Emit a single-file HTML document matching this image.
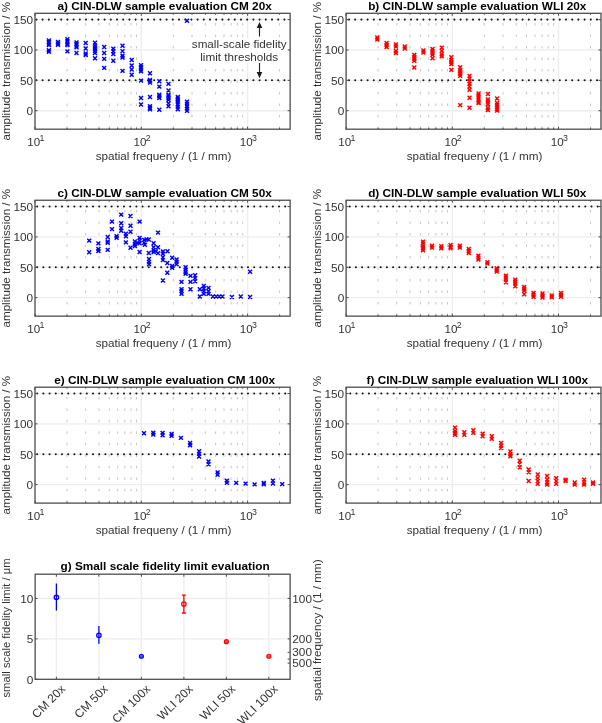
<!DOCTYPE html>
<html><head><meta charset="utf-8"><style>
html,body{margin:0;padding:0;background:#fff;}
svg{display:block;will-change:transform;}
text{font-family:"Liberation Sans", sans-serif;fill:#333333;}
.tt{fill:#000;}
</style></head><body>
<svg width="602" height="723" viewBox="0 0 602 723">
<g>
<rect width="602" height="723" fill="#fff"/>
<line x1="141.3" y1="13.3" x2="141.3" y2="129.2" stroke="#eeeeee" stroke-width="1.4"/>
<line x1="247.6" y1="13.3" x2="247.6" y2="129.2" stroke="#eeeeee" stroke-width="1.4"/>
<line x1="35" y1="110.7" x2="290.12" y2="110.7" stroke="#eeeeee" stroke-width="1.4"/>
<line x1="35" y1="80.34" x2="290.12" y2="80.34" stroke="#eeeeee" stroke-width="1.4"/>
<line x1="35" y1="49.97" x2="290.12" y2="49.97" stroke="#eeeeee" stroke-width="1.4"/>
<line x1="35" y1="19.61" x2="290.12" y2="19.61" stroke="#eeeeee" stroke-width="1.4"/>
<path d="M67 23v2.5 M67 34.5v2.5 M67 46v2.5 M67 57.5v2.5 M67 69v2.5 M67 80.5v2.5 M67 92v2.5 M67 103.5v2.5 M67 115v2.5 M67 126.5v2.5" stroke="#c6c6c6" stroke-width="1" fill="none"/>
<path d="M85.72 23v2.5 M85.72 34.5v2.5 M85.72 46v2.5 M85.72 57.5v2.5 M85.72 69v2.5 M85.72 80.5v2.5 M85.72 92v2.5 M85.72 103.5v2.5 M85.72 115v2.5 M85.72 126.5v2.5" stroke="#c6c6c6" stroke-width="1" fill="none"/>
<path d="M99 23v2.5 M99 34.5v2.5 M99 46v2.5 M99 57.5v2.5 M99 69v2.5 M99 80.5v2.5 M99 92v2.5 M99 103.5v2.5 M99 115v2.5 M99 126.5v2.5" stroke="#c6c6c6" stroke-width="1" fill="none"/>
<path d="M109.3 23v2.5 M109.3 34.5v2.5 M109.3 46v2.5 M109.3 57.5v2.5 M109.3 69v2.5 M109.3 80.5v2.5 M109.3 92v2.5 M109.3 103.5v2.5 M109.3 115v2.5 M109.3 126.5v2.5" stroke="#c6c6c6" stroke-width="1" fill="none"/>
<path d="M117.72 23v2.5 M117.72 34.5v2.5 M117.72 46v2.5 M117.72 57.5v2.5 M117.72 69v2.5 M117.72 80.5v2.5 M117.72 92v2.5 M117.72 103.5v2.5 M117.72 115v2.5 M117.72 126.5v2.5" stroke="#c6c6c6" stroke-width="1" fill="none"/>
<path d="M124.83 23v2.5 M124.83 34.5v2.5 M124.83 46v2.5 M124.83 57.5v2.5 M124.83 69v2.5 M124.83 80.5v2.5 M124.83 92v2.5 M124.83 103.5v2.5 M124.83 115v2.5 M124.83 126.5v2.5" stroke="#c6c6c6" stroke-width="1" fill="none"/>
<path d="M131 23v2.5 M131 34.5v2.5 M131 46v2.5 M131 57.5v2.5 M131 69v2.5 M131 80.5v2.5 M131 92v2.5 M131 103.5v2.5 M131 115v2.5 M131 126.5v2.5" stroke="#c6c6c6" stroke-width="1" fill="none"/>
<path d="M136.44 23v2.5 M136.44 34.5v2.5 M136.44 46v2.5 M136.44 57.5v2.5 M136.44 69v2.5 M136.44 80.5v2.5 M136.44 92v2.5 M136.44 103.5v2.5 M136.44 115v2.5 M136.44 126.5v2.5" stroke="#c6c6c6" stroke-width="1" fill="none"/>
<path d="M173.3 23v2.5 M173.3 34.5v2.5 M173.3 46v2.5 M173.3 57.5v2.5 M173.3 69v2.5 M173.3 80.5v2.5 M173.3 92v2.5 M173.3 103.5v2.5 M173.3 115v2.5 M173.3 126.5v2.5" stroke="#c6c6c6" stroke-width="1" fill="none"/>
<path d="M192.02 23v2.5 M192.02 34.5v2.5 M192.02 46v2.5 M192.02 57.5v2.5 M192.02 69v2.5 M192.02 80.5v2.5 M192.02 92v2.5 M192.02 103.5v2.5 M192.02 115v2.5 M192.02 126.5v2.5" stroke="#c6c6c6" stroke-width="1" fill="none"/>
<path d="M205.3 23v2.5 M205.3 34.5v2.5 M205.3 46v2.5 M205.3 57.5v2.5 M205.3 69v2.5 M205.3 80.5v2.5 M205.3 92v2.5 M205.3 103.5v2.5 M205.3 115v2.5 M205.3 126.5v2.5" stroke="#c6c6c6" stroke-width="1" fill="none"/>
<path d="M215.6 23v2.5 M215.6 34.5v2.5 M215.6 46v2.5 M215.6 57.5v2.5 M215.6 69v2.5 M215.6 80.5v2.5 M215.6 92v2.5 M215.6 103.5v2.5 M215.6 115v2.5 M215.6 126.5v2.5" stroke="#c6c6c6" stroke-width="1" fill="none"/>
<path d="M224.02 23v2.5 M224.02 34.5v2.5 M224.02 46v2.5 M224.02 57.5v2.5 M224.02 69v2.5 M224.02 80.5v2.5 M224.02 92v2.5 M224.02 103.5v2.5 M224.02 115v2.5 M224.02 126.5v2.5" stroke="#c6c6c6" stroke-width="1" fill="none"/>
<path d="M231.13 23v2.5 M231.13 34.5v2.5 M231.13 46v2.5 M231.13 57.5v2.5 M231.13 69v2.5 M231.13 80.5v2.5 M231.13 92v2.5 M231.13 103.5v2.5 M231.13 115v2.5 M231.13 126.5v2.5" stroke="#c6c6c6" stroke-width="1" fill="none"/>
<path d="M237.3 23v2.5 M237.3 34.5v2.5 M237.3 46v2.5 M237.3 57.5v2.5 M237.3 69v2.5 M237.3 80.5v2.5 M237.3 92v2.5 M237.3 103.5v2.5 M237.3 115v2.5 M237.3 126.5v2.5" stroke="#c6c6c6" stroke-width="1" fill="none"/>
<path d="M242.74 23v2.5 M242.74 34.5v2.5 M242.74 46v2.5 M242.74 57.5v2.5 M242.74 69v2.5 M242.74 80.5v2.5 M242.74 92v2.5 M242.74 103.5v2.5 M242.74 115v2.5 M242.74 126.5v2.5" stroke="#c6c6c6" stroke-width="1" fill="none"/>
<path d="M279.6 23v2.5 M279.6 34.5v2.5 M279.6 46v2.5 M279.6 57.5v2.5 M279.6 69v2.5 M279.6 80.5v2.5 M279.6 92v2.5 M279.6 103.5v2.5 M279.6 115v2.5 M279.6 126.5v2.5" stroke="#c6c6c6" stroke-width="1" fill="none"/>
<line x1="36.4" y1="80.34" x2="290.12" y2="80.34" stroke="#151515" stroke-width="2.05" stroke-linecap="round" stroke-dasharray="0 6.2"/>
<line x1="36.4" y1="19.61" x2="290.12" y2="19.61" stroke="#151515" stroke-width="2.05" stroke-linecap="round" stroke-dasharray="0 6.2"/>
<path d="M35 110.7h2.5M290.12 110.7h-2.5M35 80.34h2.5M290.12 80.34h-2.5M35 49.97h2.5M290.12 49.97h-2.5M35 19.61h2.5M290.12 19.61h-2.5M35 129.2v-2.5M35 13.3v2.5M141.3 129.2v-2.5M141.3 13.3v2.5M247.6 129.2v-2.5M247.6 13.3v2.5M67 129.2v-1.5M67 13.3v1.5M85.72 129.2v-1.5M85.72 13.3v1.5M99 129.2v-1.5M99 13.3v1.5M109.3 129.2v-1.5M109.3 13.3v1.5M117.72 129.2v-1.5M117.72 13.3v1.5M124.83 129.2v-1.5M124.83 13.3v1.5M131 129.2v-1.5M131 13.3v1.5M136.44 129.2v-1.5M136.44 13.3v1.5M173.3 129.2v-1.5M173.3 13.3v1.5M192.02 129.2v-1.5M192.02 13.3v1.5M205.3 129.2v-1.5M205.3 13.3v1.5M215.6 129.2v-1.5M215.6 13.3v1.5M224.02 129.2v-1.5M224.02 13.3v1.5M231.13 129.2v-1.5M231.13 13.3v1.5M237.3 129.2v-1.5M237.3 13.3v1.5M242.74 129.2v-1.5M242.74 13.3v1.5M279.6 129.2v-1.5M279.6 13.3v1.5" stroke="#4d4d4d" stroke-width="1" fill="none"/>
<path d="M46.95 38.55l3.9 3.9M46.95 42.45l3.9 -3.9M46.95 40.05l3.9 3.9M46.95 43.95l3.9 -3.9M46.95 41.55l3.9 3.9M46.95 45.45l3.9 -3.9M46.95 43.05l3.9 3.9M46.95 46.95l3.9 -3.9M46.95 48.25l3.9 3.9M46.95 52.15l3.9 -3.9M46.95 49.85l3.9 3.9M46.95 53.75l3.9 -3.9M56.05 40.05l3.9 3.9M56.05 43.95l3.9 -3.9M56.05 41.55l3.9 3.9M56.05 45.45l3.9 -3.9M56.05 42.75l3.9 3.9M56.05 46.65l3.9 -3.9M65.45 37.25l3.9 3.9M65.45 41.15l3.9 -3.9M65.45 38.75l3.9 3.9M65.45 42.65l3.9 -3.9M65.45 40.25l3.9 3.9M65.45 44.15l3.9 -3.9M65.45 41.75l3.9 3.9M65.45 45.65l3.9 -3.9M65.45 43.05l3.9 3.9M65.45 46.95l3.9 -3.9M65.45 49.45l3.9 3.9M65.45 53.35l3.9 -3.9M74.55 40.45l3.9 3.9M74.55 44.35l3.9 -3.9M74.55 42.05l3.9 3.9M74.55 45.95l3.9 -3.9M74.55 43.55l3.9 3.9M74.55 47.45l3.9 -3.9M74.55 45.35l3.9 3.9M74.55 49.25l3.9 -3.9M74.55 51.05l3.9 3.9M74.55 54.95l3.9 -3.9M83.75 41.05l3.9 3.9M83.75 44.95l3.9 -3.9M83.75 46.55l3.9 3.9M83.75 50.45l3.9 -3.9M83.75 51.55l3.9 3.9M83.75 55.45l3.9 -3.9M83.75 53.05l3.9 3.9M83.75 56.95l3.9 -3.9M93.05 40.75l3.9 3.9M93.05 44.65l3.9 -3.9M93.05 43.55l3.9 3.9M93.05 47.45l3.9 -3.9M93.05 45.35l3.9 3.9M93.05 49.25l3.9 -3.9M93.05 47.05l3.9 3.9M93.05 50.95l3.9 -3.9M93.05 48.85l3.9 3.9M93.05 52.75l3.9 -3.9M93.05 51.05l3.9 3.9M93.05 54.95l3.9 -3.9M93.05 56.25l3.9 3.9M93.05 60.15l3.9 -3.9M102.25 45.05l3.9 3.9M102.25 48.95l3.9 -3.9M102.25 51.05l3.9 3.9M102.25 54.95l3.9 -3.9M102.25 56.95l3.9 3.9M102.25 60.85l3.9 -3.9M102.25 65.95l3.9 3.9M102.25 69.85l3.9 -3.9M111.35 46.65l3.9 3.9M111.35 50.55l3.9 -3.9M111.35 49.35l3.9 3.9M111.35 53.25l3.9 -3.9M111.35 52.05l3.9 3.9M111.35 55.95l3.9 -3.9M111.35 58.75l3.9 3.9M111.35 62.65l3.9 -3.9M120.55 43.75l3.9 3.9M120.55 47.65l3.9 -3.9M120.55 49.15l3.9 3.9M120.55 53.05l3.9 -3.9M120.55 53.65l3.9 3.9M120.55 57.55l3.9 -3.9M120.55 55.65l3.9 3.9M120.55 59.55l3.9 -3.9M120.55 68.95l3.9 3.9M120.55 72.85l3.9 -3.9M129.75 58.05l3.9 3.9M129.75 61.95l3.9 -3.9M129.75 63.55l3.9 3.9M129.75 67.45l3.9 -3.9M129.75 67.55l3.9 3.9M129.75 71.45l3.9 -3.9M129.75 72.85l3.9 3.9M129.75 76.75l3.9 -3.9M139.05 63.35l3.9 3.9M139.05 67.25l3.9 -3.9M139.05 65.35l3.9 3.9M139.05 69.25l3.9 -3.9M139.05 67.35l3.9 3.9M139.05 71.25l3.9 -3.9M139.05 69.35l3.9 3.9M139.05 73.25l3.9 -3.9M139.05 78.65l3.9 3.9M139.05 82.55l3.9 -3.9M139.05 96.05l3.9 3.9M139.05 99.95l3.9 -3.9M139.05 102.55l3.9 3.9M139.05 106.45l3.9 -3.9M148.05 71.35l3.9 3.9M148.05 75.25l3.9 -3.9M148.05 78.05l3.9 3.9M148.05 81.95l3.9 -3.9M148.05 79.35l3.9 3.9M148.05 83.25l3.9 -3.9M148.05 80.65l3.9 3.9M148.05 84.55l3.9 -3.9M148.05 95.05l3.9 3.9M148.05 98.95l3.9 -3.9M148.05 104.35l3.9 3.9M148.05 108.25l3.9 -3.9M148.05 106.05l3.9 3.9M148.05 109.95l3.9 -3.9M148.05 107.25l3.9 3.9M148.05 111.15l3.9 -3.9M157.35 79.35l3.9 3.9M157.35 83.25l3.9 -3.9M157.35 84.65l3.9 3.9M157.35 88.55l3.9 -3.9M157.35 92.75l3.9 3.9M157.35 96.65l3.9 -3.9M157.35 94.45l3.9 3.9M157.35 98.35l3.9 -3.9M157.35 96.15l3.9 3.9M157.35 100.05l3.9 -3.9M157.35 107.85l3.9 3.9M157.35 111.75l3.9 -3.9M166.55 81.95l3.9 3.9M166.55 85.85l3.9 -3.9M166.55 88.55l3.9 3.9M166.55 92.45l3.9 -3.9M166.55 92.75l3.9 3.9M166.55 96.65l3.9 -3.9M166.55 94.45l3.9 3.9M166.55 98.35l3.9 -3.9M166.55 96.15l3.9 3.9M166.55 100.05l3.9 -3.9M166.55 97.95l3.9 3.9M166.55 101.85l3.9 -3.9M166.55 101.45l3.9 3.9M166.55 105.35l3.9 -3.9M166.55 104.35l3.9 3.9M166.55 108.25l3.9 -3.9M175.85 95.05l3.9 3.9M175.85 98.95l3.9 -3.9M175.85 96.75l3.9 3.9M175.85 100.65l3.9 -3.9M175.85 98.55l3.9 3.9M175.85 102.45l3.9 -3.9M175.85 100.25l3.9 3.9M175.85 104.15l3.9 -3.9M175.85 102.55l3.9 3.9M175.85 106.45l3.9 -3.9M175.85 104.95l3.9 3.9M175.85 108.85l3.9 -3.9M175.85 107.25l3.9 3.9M175.85 111.15l3.9 -3.9M185.05 18.85l3.9 3.9M185.05 22.75l3.9 -3.9M185.05 99.65l3.9 3.9M185.05 103.55l3.9 -3.9M185.05 102.05l3.9 3.9M185.05 105.95l3.9 -3.9M185.05 104.35l3.9 3.9M185.05 108.25l3.9 -3.9M185.05 106.65l3.9 3.9M185.05 110.55l3.9 -3.9M185.05 108.95l3.9 3.9M185.05 112.85l3.9 -3.9" stroke="#0000ff" stroke-width="1.45" fill="none"/>
<rect x="35" y="13.3" width="255.12" height="115.9" fill="none" stroke="#4d4d4d" stroke-width="1.3"/>
<text x="33.1" y="115" text-anchor="end" font-size="11.8">0</text>
<text x="33.1" y="84.64" text-anchor="end" font-size="11.8">50</text>
<text x="33.1" y="54.27" text-anchor="end" font-size="11.8">100</text>
<text x="33.1" y="23.91" text-anchor="end" font-size="11.8">150</text>
<text x="27.2" y="146" font-size="11.6">10<tspan dx="-0.6" dy="-5.2" font-size="8.8">1</tspan></text>
<text x="133.5" y="146" font-size="11.6">10<tspan dx="-0.6" dy="-5.2" font-size="8.8">2</tspan></text>
<text x="239.8" y="146" font-size="11.6">10<tspan dx="-0.6" dy="-5.2" font-size="8.8">3</tspan></text>
<text x="163.56" y="159.8" text-anchor="middle" font-size="11.7">spatial frequeny / (1 / mm)</text>
<text transform="translate(9.8 71.25) rotate(-90)" text-anchor="middle" font-size="11.6">amplitude transmission / %</text>
<text x="164.6" y="9.7" text-anchor="middle" font-size="11.8" font-weight="bold" class="tt">a) CIN-DLW sample evaluation CM 20x</text>
<line x1="452.3" y1="13.3" x2="452.3" y2="129.2" stroke="#eeeeee" stroke-width="1.4"/>
<line x1="558.5" y1="13.3" x2="558.5" y2="129.2" stroke="#eeeeee" stroke-width="1.4"/>
<line x1="346.1" y1="110.7" x2="600.98" y2="110.7" stroke="#eeeeee" stroke-width="1.4"/>
<line x1="346.1" y1="80.34" x2="600.98" y2="80.34" stroke="#eeeeee" stroke-width="1.4"/>
<line x1="346.1" y1="49.97" x2="600.98" y2="49.97" stroke="#eeeeee" stroke-width="1.4"/>
<line x1="346.1" y1="19.61" x2="600.98" y2="19.61" stroke="#eeeeee" stroke-width="1.4"/>
<path d="M378.07 23v2.5 M378.07 34.5v2.5 M378.07 46v2.5 M378.07 57.5v2.5 M378.07 69v2.5 M378.07 80.5v2.5 M378.07 92v2.5 M378.07 103.5v2.5 M378.07 115v2.5 M378.07 126.5v2.5" stroke="#c6c6c6" stroke-width="1" fill="none"/>
<path d="M396.77 23v2.5 M396.77 34.5v2.5 M396.77 46v2.5 M396.77 57.5v2.5 M396.77 69v2.5 M396.77 80.5v2.5 M396.77 92v2.5 M396.77 103.5v2.5 M396.77 115v2.5 M396.77 126.5v2.5" stroke="#c6c6c6" stroke-width="1" fill="none"/>
<path d="M410.04 23v2.5 M410.04 34.5v2.5 M410.04 46v2.5 M410.04 57.5v2.5 M410.04 69v2.5 M410.04 80.5v2.5 M410.04 92v2.5 M410.04 103.5v2.5 M410.04 115v2.5 M410.04 126.5v2.5" stroke="#c6c6c6" stroke-width="1" fill="none"/>
<path d="M420.33 23v2.5 M420.33 34.5v2.5 M420.33 46v2.5 M420.33 57.5v2.5 M420.33 69v2.5 M420.33 80.5v2.5 M420.33 92v2.5 M420.33 103.5v2.5 M420.33 115v2.5 M420.33 126.5v2.5" stroke="#c6c6c6" stroke-width="1" fill="none"/>
<path d="M428.74 23v2.5 M428.74 34.5v2.5 M428.74 46v2.5 M428.74 57.5v2.5 M428.74 69v2.5 M428.74 80.5v2.5 M428.74 92v2.5 M428.74 103.5v2.5 M428.74 115v2.5 M428.74 126.5v2.5" stroke="#c6c6c6" stroke-width="1" fill="none"/>
<path d="M435.85 23v2.5 M435.85 34.5v2.5 M435.85 46v2.5 M435.85 57.5v2.5 M435.85 69v2.5 M435.85 80.5v2.5 M435.85 92v2.5 M435.85 103.5v2.5 M435.85 115v2.5 M435.85 126.5v2.5" stroke="#c6c6c6" stroke-width="1" fill="none"/>
<path d="M442.01 23v2.5 M442.01 34.5v2.5 M442.01 46v2.5 M442.01 57.5v2.5 M442.01 69v2.5 M442.01 80.5v2.5 M442.01 92v2.5 M442.01 103.5v2.5 M442.01 115v2.5 M442.01 126.5v2.5" stroke="#c6c6c6" stroke-width="1" fill="none"/>
<path d="M447.44 23v2.5 M447.44 34.5v2.5 M447.44 46v2.5 M447.44 57.5v2.5 M447.44 69v2.5 M447.44 80.5v2.5 M447.44 92v2.5 M447.44 103.5v2.5 M447.44 115v2.5 M447.44 126.5v2.5" stroke="#c6c6c6" stroke-width="1" fill="none"/>
<path d="M484.27 23v2.5 M484.27 34.5v2.5 M484.27 46v2.5 M484.27 57.5v2.5 M484.27 69v2.5 M484.27 80.5v2.5 M484.27 92v2.5 M484.27 103.5v2.5 M484.27 115v2.5 M484.27 126.5v2.5" stroke="#c6c6c6" stroke-width="1" fill="none"/>
<path d="M502.97 23v2.5 M502.97 34.5v2.5 M502.97 46v2.5 M502.97 57.5v2.5 M502.97 69v2.5 M502.97 80.5v2.5 M502.97 92v2.5 M502.97 103.5v2.5 M502.97 115v2.5 M502.97 126.5v2.5" stroke="#c6c6c6" stroke-width="1" fill="none"/>
<path d="M516.24 23v2.5 M516.24 34.5v2.5 M516.24 46v2.5 M516.24 57.5v2.5 M516.24 69v2.5 M516.24 80.5v2.5 M516.24 92v2.5 M516.24 103.5v2.5 M516.24 115v2.5 M516.24 126.5v2.5" stroke="#c6c6c6" stroke-width="1" fill="none"/>
<path d="M526.53 23v2.5 M526.53 34.5v2.5 M526.53 46v2.5 M526.53 57.5v2.5 M526.53 69v2.5 M526.53 80.5v2.5 M526.53 92v2.5 M526.53 103.5v2.5 M526.53 115v2.5 M526.53 126.5v2.5" stroke="#c6c6c6" stroke-width="1" fill="none"/>
<path d="M534.94 23v2.5 M534.94 34.5v2.5 M534.94 46v2.5 M534.94 57.5v2.5 M534.94 69v2.5 M534.94 80.5v2.5 M534.94 92v2.5 M534.94 103.5v2.5 M534.94 115v2.5 M534.94 126.5v2.5" stroke="#c6c6c6" stroke-width="1" fill="none"/>
<path d="M542.05 23v2.5 M542.05 34.5v2.5 M542.05 46v2.5 M542.05 57.5v2.5 M542.05 69v2.5 M542.05 80.5v2.5 M542.05 92v2.5 M542.05 103.5v2.5 M542.05 115v2.5 M542.05 126.5v2.5" stroke="#c6c6c6" stroke-width="1" fill="none"/>
<path d="M548.21 23v2.5 M548.21 34.5v2.5 M548.21 46v2.5 M548.21 57.5v2.5 M548.21 69v2.5 M548.21 80.5v2.5 M548.21 92v2.5 M548.21 103.5v2.5 M548.21 115v2.5 M548.21 126.5v2.5" stroke="#c6c6c6" stroke-width="1" fill="none"/>
<path d="M553.64 23v2.5 M553.64 34.5v2.5 M553.64 46v2.5 M553.64 57.5v2.5 M553.64 69v2.5 M553.64 80.5v2.5 M553.64 92v2.5 M553.64 103.5v2.5 M553.64 115v2.5 M553.64 126.5v2.5" stroke="#c6c6c6" stroke-width="1" fill="none"/>
<path d="M590.47 23v2.5 M590.47 34.5v2.5 M590.47 46v2.5 M590.47 57.5v2.5 M590.47 69v2.5 M590.47 80.5v2.5 M590.47 92v2.5 M590.47 103.5v2.5 M590.47 115v2.5 M590.47 126.5v2.5" stroke="#c6c6c6" stroke-width="1" fill="none"/>
<line x1="349" y1="80.34" x2="600.98" y2="80.34" stroke="#151515" stroke-width="2.05" stroke-linecap="round" stroke-dasharray="0 6.2"/>
<line x1="349" y1="19.61" x2="600.98" y2="19.61" stroke="#151515" stroke-width="2.05" stroke-linecap="round" stroke-dasharray="0 6.2"/>
<path d="M346.1 110.7h2.5M600.98 110.7h-2.5M346.1 80.34h2.5M600.98 80.34h-2.5M346.1 49.97h2.5M600.98 49.97h-2.5M346.1 19.61h2.5M600.98 19.61h-2.5M346.1 129.2v-2.5M346.1 13.3v2.5M452.3 129.2v-2.5M452.3 13.3v2.5M558.5 129.2v-2.5M558.5 13.3v2.5M378.07 129.2v-1.5M378.07 13.3v1.5M396.77 129.2v-1.5M396.77 13.3v1.5M410.04 129.2v-1.5M410.04 13.3v1.5M420.33 129.2v-1.5M420.33 13.3v1.5M428.74 129.2v-1.5M428.74 13.3v1.5M435.85 129.2v-1.5M435.85 13.3v1.5M442.01 129.2v-1.5M442.01 13.3v1.5M447.44 129.2v-1.5M447.44 13.3v1.5M484.27 129.2v-1.5M484.27 13.3v1.5M502.97 129.2v-1.5M502.97 13.3v1.5M516.24 129.2v-1.5M516.24 13.3v1.5M526.53 129.2v-1.5M526.53 13.3v1.5M534.94 129.2v-1.5M534.94 13.3v1.5M542.05 129.2v-1.5M542.05 13.3v1.5M548.21 129.2v-1.5M548.21 13.3v1.5M553.64 129.2v-1.5M553.64 13.3v1.5M590.47 129.2v-1.5M590.47 13.3v1.5" stroke="#4d4d4d" stroke-width="1" fill="none"/>
<path d="M375.35 35.55l3.9 3.9M375.35 39.45l3.9 -3.9M375.35 37.55l3.9 3.9M375.35 41.45l3.9 -3.9M384.65 41.05l3.9 3.9M384.65 44.95l3.9 -3.9M384.65 43.05l3.9 3.9M384.65 46.95l3.9 -3.9M384.65 45.05l3.9 3.9M384.65 48.95l3.9 -3.9M393.95 42.55l3.9 3.9M393.95 46.45l3.9 -3.9M393.95 44.55l3.9 3.9M393.95 48.45l3.9 -3.9M393.95 49.05l3.9 3.9M393.95 52.95l3.9 -3.9M393.95 51.05l3.9 3.9M393.95 54.95l3.9 -3.9M402.85 44.55l3.9 3.9M402.85 48.45l3.9 -3.9M402.85 46.55l3.9 3.9M402.85 50.45l3.9 -3.9M412.35 52.95l3.9 3.9M412.35 56.85l3.9 -3.9M412.35 54.95l3.9 3.9M412.35 58.85l3.9 -3.9M412.35 56.95l3.9 3.9M412.35 60.85l3.9 -3.9M412.35 58.95l3.9 3.9M412.35 62.85l3.9 -3.9M412.35 65.55l3.9 3.9M412.35 69.45l3.9 -3.9M421.45 48.55l3.9 3.9M421.45 52.45l3.9 -3.9M421.45 50.55l3.9 3.9M421.45 54.45l3.9 -3.9M430.55 46.95l3.9 3.9M430.55 50.85l3.9 -3.9M430.55 48.95l3.9 3.9M430.55 52.85l3.9 -3.9M430.55 50.95l3.9 3.9M430.55 54.85l3.9 -3.9M430.55 52.95l3.9 3.9M430.55 56.85l3.9 -3.9M430.55 56.25l3.9 3.9M430.55 60.15l3.9 -3.9M439.85 45.65l3.9 3.9M439.85 49.55l3.9 -3.9M439.85 48.95l3.9 3.9M439.85 52.85l3.9 -3.9M439.85 52.25l3.9 3.9M439.85 56.15l3.9 -3.9M439.85 54.25l3.9 3.9M439.85 58.15l3.9 -3.9M449.35 55.35l3.9 3.9M449.35 59.25l3.9 -3.9M449.35 58.05l3.9 3.9M449.35 61.95l3.9 -3.9M449.35 60.05l3.9 3.9M449.35 63.95l3.9 -3.9M449.35 62.05l3.9 3.9M449.35 65.95l3.9 -3.9M449.35 67.95l3.9 3.9M449.35 71.85l3.9 -3.9M458.25 65.35l3.9 3.9M458.25 69.25l3.9 -3.9M458.25 67.95l3.9 3.9M458.25 71.85l3.9 -3.9M458.25 69.95l3.9 3.9M458.25 73.85l3.9 -3.9M458.25 71.95l3.9 3.9M458.25 75.85l3.9 -3.9M458.25 73.95l3.9 3.9M458.25 77.85l3.9 -3.9M458.25 103.15l3.9 3.9M458.25 107.05l3.9 -3.9M467.55 73.95l3.9 3.9M467.55 77.85l3.9 -3.9M467.55 76.65l3.9 3.9M467.55 80.55l3.9 -3.9M467.55 79.25l3.9 3.9M467.55 83.15l3.9 -3.9M467.55 81.95l3.9 3.9M467.55 85.85l3.9 -3.9M467.55 84.55l3.9 3.9M467.55 88.45l3.9 -3.9M467.55 87.95l3.9 3.9M467.55 91.85l3.9 -3.9M467.55 95.85l3.9 3.9M467.55 99.75l3.9 -3.9M467.55 105.85l3.9 3.9M467.55 109.75l3.9 -3.9M476.65 91.55l3.9 3.9M476.65 95.45l3.9 -3.9M476.65 93.55l3.9 3.9M476.65 97.45l3.9 -3.9M476.65 95.55l3.9 3.9M476.65 99.45l3.9 -3.9M476.65 97.55l3.9 3.9M476.65 101.45l3.9 -3.9M476.65 99.55l3.9 3.9M476.65 103.45l3.9 -3.9M476.65 101.05l3.9 3.9M476.65 104.95l3.9 -3.9M485.95 92.05l3.9 3.9M485.95 95.95l3.9 -3.9M485.95 97.55l3.9 3.9M485.95 101.45l3.9 -3.9M485.95 99.55l3.9 3.9M485.95 103.45l3.9 -3.9M485.95 101.55l3.9 3.9M485.95 105.45l3.9 -3.9M485.95 102.55l3.9 3.9M485.95 106.45l3.9 -3.9M485.95 106.05l3.9 3.9M485.95 109.95l3.9 -3.9M485.95 108.05l3.9 3.9M485.95 111.95l3.9 -3.9M495.15 96.55l3.9 3.9M495.15 100.45l3.9 -3.9M495.15 101.05l3.9 3.9M495.15 104.95l3.9 -3.9M495.15 103.05l3.9 3.9M495.15 106.95l3.9 -3.9M495.15 105.05l3.9 3.9M495.15 108.95l3.9 -3.9M495.15 107.05l3.9 3.9M495.15 110.95l3.9 -3.9M495.15 108.55l3.9 3.9M495.15 112.45l3.9 -3.9" stroke="#ff0000" stroke-width="1.45" fill="none"/>
<rect x="346.1" y="13.3" width="254.88" height="115.9" fill="none" stroke="#4d4d4d" stroke-width="1.3"/>
<text x="344.2" y="115" text-anchor="end" font-size="11.8">0</text>
<text x="344.2" y="84.64" text-anchor="end" font-size="11.8">50</text>
<text x="344.2" y="54.27" text-anchor="end" font-size="11.8">100</text>
<text x="344.2" y="23.91" text-anchor="end" font-size="11.8">150</text>
<text x="338.3" y="146" font-size="11.6">10<tspan dx="-0.6" dy="-5.2" font-size="8.8">1</tspan></text>
<text x="444.5" y="146" font-size="11.6">10<tspan dx="-0.6" dy="-5.2" font-size="8.8">2</tspan></text>
<text x="550.7" y="146" font-size="11.6">10<tspan dx="-0.6" dy="-5.2" font-size="8.8">3</tspan></text>
<text x="474.54" y="159.8" text-anchor="middle" font-size="11.7">spatial frequeny / (1 / mm)</text>
<text transform="translate(320.9 71.25) rotate(-90)" text-anchor="middle" font-size="11.6">amplitude transmission / %</text>
<text x="477.3" y="9.7" text-anchor="middle" font-size="11.8" font-weight="bold" class="tt">b) CIN-DLW sample evaluation WLI 20x</text>
<line x1="141.3" y1="200.25" x2="141.3" y2="316.15" stroke="#eeeeee" stroke-width="1.4"/>
<line x1="247.6" y1="200.25" x2="247.6" y2="316.15" stroke="#eeeeee" stroke-width="1.4"/>
<line x1="35" y1="297.65" x2="290.12" y2="297.65" stroke="#eeeeee" stroke-width="1.4"/>
<line x1="35" y1="267.28" x2="290.12" y2="267.28" stroke="#eeeeee" stroke-width="1.4"/>
<line x1="35" y1="236.92" x2="290.12" y2="236.92" stroke="#eeeeee" stroke-width="1.4"/>
<line x1="35" y1="206.55" x2="290.12" y2="206.55" stroke="#eeeeee" stroke-width="1.4"/>
<path d="M67 209.95v2.5 M67 221.45v2.5 M67 232.95v2.5 M67 244.45v2.5 M67 255.95v2.5 M67 267.45v2.5 M67 278.95v2.5 M67 290.45v2.5 M67 301.95v2.5 M67 313.45v2.5" stroke="#c6c6c6" stroke-width="1" fill="none"/>
<path d="M85.72 209.95v2.5 M85.72 221.45v2.5 M85.72 232.95v2.5 M85.72 244.45v2.5 M85.72 255.95v2.5 M85.72 267.45v2.5 M85.72 278.95v2.5 M85.72 290.45v2.5 M85.72 301.95v2.5 M85.72 313.45v2.5" stroke="#c6c6c6" stroke-width="1" fill="none"/>
<path d="M99 209.95v2.5 M99 221.45v2.5 M99 232.95v2.5 M99 244.45v2.5 M99 255.95v2.5 M99 267.45v2.5 M99 278.95v2.5 M99 290.45v2.5 M99 301.95v2.5 M99 313.45v2.5" stroke="#c6c6c6" stroke-width="1" fill="none"/>
<path d="M109.3 209.95v2.5 M109.3 221.45v2.5 M109.3 232.95v2.5 M109.3 244.45v2.5 M109.3 255.95v2.5 M109.3 267.45v2.5 M109.3 278.95v2.5 M109.3 290.45v2.5 M109.3 301.95v2.5 M109.3 313.45v2.5" stroke="#c6c6c6" stroke-width="1" fill="none"/>
<path d="M117.72 209.95v2.5 M117.72 221.45v2.5 M117.72 232.95v2.5 M117.72 244.45v2.5 M117.72 255.95v2.5 M117.72 267.45v2.5 M117.72 278.95v2.5 M117.72 290.45v2.5 M117.72 301.95v2.5 M117.72 313.45v2.5" stroke="#c6c6c6" stroke-width="1" fill="none"/>
<path d="M124.83 209.95v2.5 M124.83 221.45v2.5 M124.83 232.95v2.5 M124.83 244.45v2.5 M124.83 255.95v2.5 M124.83 267.45v2.5 M124.83 278.95v2.5 M124.83 290.45v2.5 M124.83 301.95v2.5 M124.83 313.45v2.5" stroke="#c6c6c6" stroke-width="1" fill="none"/>
<path d="M131 209.95v2.5 M131 221.45v2.5 M131 232.95v2.5 M131 244.45v2.5 M131 255.95v2.5 M131 267.45v2.5 M131 278.95v2.5 M131 290.45v2.5 M131 301.95v2.5 M131 313.45v2.5" stroke="#c6c6c6" stroke-width="1" fill="none"/>
<path d="M136.44 209.95v2.5 M136.44 221.45v2.5 M136.44 232.95v2.5 M136.44 244.45v2.5 M136.44 255.95v2.5 M136.44 267.45v2.5 M136.44 278.95v2.5 M136.44 290.45v2.5 M136.44 301.95v2.5 M136.44 313.45v2.5" stroke="#c6c6c6" stroke-width="1" fill="none"/>
<path d="M173.3 209.95v2.5 M173.3 221.45v2.5 M173.3 232.95v2.5 M173.3 244.45v2.5 M173.3 255.95v2.5 M173.3 267.45v2.5 M173.3 278.95v2.5 M173.3 290.45v2.5 M173.3 301.95v2.5 M173.3 313.45v2.5" stroke="#c6c6c6" stroke-width="1" fill="none"/>
<path d="M192.02 209.95v2.5 M192.02 221.45v2.5 M192.02 232.95v2.5 M192.02 244.45v2.5 M192.02 255.95v2.5 M192.02 267.45v2.5 M192.02 278.95v2.5 M192.02 290.45v2.5 M192.02 301.95v2.5 M192.02 313.45v2.5" stroke="#c6c6c6" stroke-width="1" fill="none"/>
<path d="M205.3 209.95v2.5 M205.3 221.45v2.5 M205.3 232.95v2.5 M205.3 244.45v2.5 M205.3 255.95v2.5 M205.3 267.45v2.5 M205.3 278.95v2.5 M205.3 290.45v2.5 M205.3 301.95v2.5 M205.3 313.45v2.5" stroke="#c6c6c6" stroke-width="1" fill="none"/>
<path d="M215.6 209.95v2.5 M215.6 221.45v2.5 M215.6 232.95v2.5 M215.6 244.45v2.5 M215.6 255.95v2.5 M215.6 267.45v2.5 M215.6 278.95v2.5 M215.6 290.45v2.5 M215.6 301.95v2.5 M215.6 313.45v2.5" stroke="#c6c6c6" stroke-width="1" fill="none"/>
<path d="M224.02 209.95v2.5 M224.02 221.45v2.5 M224.02 232.95v2.5 M224.02 244.45v2.5 M224.02 255.95v2.5 M224.02 267.45v2.5 M224.02 278.95v2.5 M224.02 290.45v2.5 M224.02 301.95v2.5 M224.02 313.45v2.5" stroke="#c6c6c6" stroke-width="1" fill="none"/>
<path d="M231.13 209.95v2.5 M231.13 221.45v2.5 M231.13 232.95v2.5 M231.13 244.45v2.5 M231.13 255.95v2.5 M231.13 267.45v2.5 M231.13 278.95v2.5 M231.13 290.45v2.5 M231.13 301.95v2.5 M231.13 313.45v2.5" stroke="#c6c6c6" stroke-width="1" fill="none"/>
<path d="M237.3 209.95v2.5 M237.3 221.45v2.5 M237.3 232.95v2.5 M237.3 244.45v2.5 M237.3 255.95v2.5 M237.3 267.45v2.5 M237.3 278.95v2.5 M237.3 290.45v2.5 M237.3 301.95v2.5 M237.3 313.45v2.5" stroke="#c6c6c6" stroke-width="1" fill="none"/>
<path d="M242.74 209.95v2.5 M242.74 221.45v2.5 M242.74 232.95v2.5 M242.74 244.45v2.5 M242.74 255.95v2.5 M242.74 267.45v2.5 M242.74 278.95v2.5 M242.74 290.45v2.5 M242.74 301.95v2.5 M242.74 313.45v2.5" stroke="#c6c6c6" stroke-width="1" fill="none"/>
<path d="M279.6 209.95v2.5 M279.6 221.45v2.5 M279.6 232.95v2.5 M279.6 244.45v2.5 M279.6 255.95v2.5 M279.6 267.45v2.5 M279.6 278.95v2.5 M279.6 290.45v2.5 M279.6 301.95v2.5 M279.6 313.45v2.5" stroke="#c6c6c6" stroke-width="1" fill="none"/>
<line x1="37.2" y1="267.28" x2="290.12" y2="267.28" stroke="#151515" stroke-width="2.05" stroke-linecap="round" stroke-dasharray="0 6.2"/>
<line x1="37.2" y1="206.55" x2="290.12" y2="206.55" stroke="#151515" stroke-width="2.05" stroke-linecap="round" stroke-dasharray="0 6.2"/>
<path d="M35 297.65h2.5M290.12 297.65h-2.5M35 267.28h2.5M290.12 267.28h-2.5M35 236.92h2.5M290.12 236.92h-2.5M35 206.55h2.5M290.12 206.55h-2.5M35 316.15v-2.5M35 200.25v2.5M141.3 316.15v-2.5M141.3 200.25v2.5M247.6 316.15v-2.5M247.6 200.25v2.5M67 316.15v-1.5M67 200.25v1.5M85.72 316.15v-1.5M85.72 200.25v1.5M99 316.15v-1.5M99 200.25v1.5M109.3 316.15v-1.5M109.3 200.25v1.5M117.72 316.15v-1.5M117.72 200.25v1.5M124.83 316.15v-1.5M124.83 200.25v1.5M131 316.15v-1.5M131 200.25v1.5M136.44 316.15v-1.5M136.44 200.25v1.5M173.3 316.15v-1.5M173.3 200.25v1.5M192.02 316.15v-1.5M192.02 200.25v1.5M205.3 316.15v-1.5M205.3 200.25v1.5M215.6 316.15v-1.5M215.6 200.25v1.5M224.02 316.15v-1.5M224.02 200.25v1.5M231.13 316.15v-1.5M231.13 200.25v1.5M237.3 316.15v-1.5M237.3 200.25v1.5M242.74 316.15v-1.5M242.74 200.25v1.5M279.6 316.15v-1.5M279.6 200.25v1.5" stroke="#4d4d4d" stroke-width="1" fill="none"/>
<path d="M87.25 238.65l3.9 3.9M87.25 242.55l3.9 -3.9M87.25 250.25l3.9 3.9M87.25 254.15l3.9 -3.9M96.45 241.45l3.9 3.9M96.45 245.35l3.9 -3.9M96.45 247.05l3.9 3.9M96.45 250.95l3.9 -3.9M96.45 249.05l3.9 3.9M96.45 252.95l3.9 -3.9M105.75 235.05l3.9 3.9M105.75 238.95l3.9 -3.9M105.75 239.55l3.9 3.9M105.75 243.45l3.9 -3.9M105.75 240.85l3.9 3.9M105.75 244.75l3.9 -3.9M105.75 247.95l3.9 3.9M105.75 251.85l3.9 -3.9M110.05 219.65l3.9 3.9M110.05 223.55l3.9 -3.9M110.05 227.15l3.9 3.9M110.05 231.05l3.9 -3.9M114.65 234.15l3.9 3.9M114.65 238.05l3.9 -3.9M114.65 235.85l3.9 3.9M114.65 239.75l3.9 -3.9M119.25 212.65l3.9 3.9M119.25 216.55l3.9 -3.9M119.25 221.35l3.9 3.9M119.25 225.25l3.9 -3.9M119.25 226.05l3.9 3.9M119.25 229.95l3.9 -3.9M119.25 228.85l3.9 3.9M119.25 232.75l3.9 -3.9M123.95 231.75l3.9 3.9M123.95 235.65l3.9 -3.9M123.95 234.25l3.9 3.9M123.95 238.15l3.9 -3.9M123.95 240.45l3.9 3.9M123.95 244.35l3.9 -3.9M128.55 214.05l3.9 3.9M128.55 217.95l3.9 -3.9M128.55 223.85l3.9 3.9M128.55 227.75l3.9 -3.9M128.55 229.85l3.9 3.9M128.55 233.75l3.9 -3.9M128.55 245.75l3.9 3.9M128.55 249.65l3.9 -3.9M132.95 239.55l3.9 3.9M132.95 243.45l3.9 -3.9M132.95 242.05l3.9 3.9M132.95 245.95l3.9 -3.9M132.95 244.15l3.9 3.9M132.95 248.05l3.9 -3.9M135.25 240.85l3.9 3.9M135.25 244.75l3.9 -3.9M137.65 219.65l3.9 3.9M137.65 223.55l3.9 -3.9M137.65 235.95l3.9 3.9M137.65 239.85l3.9 -3.9M137.65 238.55l3.9 3.9M137.65 242.45l3.9 -3.9M137.65 241.25l3.9 3.9M137.65 245.15l3.9 -3.9M137.65 250.05l3.9 3.9M137.65 253.95l3.9 -3.9M142.25 237.95l3.9 3.9M142.25 241.85l3.9 -3.9M142.25 240.85l3.9 3.9M142.25 244.75l3.9 -3.9M142.95 242.75l3.9 3.9M142.95 246.65l3.9 -3.9M144.55 237.45l3.9 3.9M144.55 241.35l3.9 -3.9M146.85 237.55l3.9 3.9M146.85 241.45l3.9 -3.9M146.85 251.05l3.9 3.9M146.85 254.95l3.9 -3.9M147.05 257.05l3.9 3.9M147.05 260.95l3.9 -3.9M147.05 259.95l3.9 3.9M147.05 263.85l3.9 -3.9M147.05 262.25l3.9 3.9M147.05 266.15l3.9 -3.9M151.65 241.35l3.9 3.9M151.65 245.25l3.9 -3.9M151.65 245.35l3.9 3.9M151.65 249.25l3.9 -3.9M151.65 248.25l3.9 3.9M151.65 252.15l3.9 -3.9M151.65 250.05l3.9 3.9M151.65 253.95l3.9 -3.9M156.05 230.65l3.9 3.9M156.05 234.55l3.9 -3.9M156.05 245.35l3.9 3.9M156.05 249.25l3.9 -3.9M153.95 249.45l3.9 3.9M153.95 253.35l3.9 -3.9M156.05 251.15l3.9 3.9M156.05 255.05l3.9 -3.9M160.95 249.45l3.9 3.9M160.95 253.35l3.9 -3.9M160.95 251.75l3.9 3.9M160.95 255.65l3.9 -3.9M160.95 255.25l3.9 3.9M160.95 259.15l3.9 -3.9M160.95 258.15l3.9 3.9M160.95 262.05l3.9 -3.9M160.95 278.55l3.9 3.9M160.95 282.45l3.9 -3.9M165.55 249.25l3.9 3.9M165.55 253.15l3.9 -3.9M165.35 261.05l3.9 3.9M165.35 264.95l3.9 -3.9M165.35 270.75l3.9 3.9M165.35 274.65l3.9 -3.9M170.25 255.85l3.9 3.9M170.25 259.75l3.9 -3.9M170.25 263.95l3.9 3.9M170.25 267.85l3.9 -3.9M170.25 265.75l3.9 3.9M170.25 269.65l3.9 -3.9M174.65 257.55l3.9 3.9M174.65 261.45l3.9 -3.9M174.65 259.95l3.9 3.9M174.65 263.85l3.9 -3.9M174.65 262.25l3.9 3.9M174.65 266.15l3.9 -3.9M179.55 279.95l3.9 3.9M179.55 283.85l3.9 -3.9M179.55 287.25l3.9 3.9M179.55 291.15l3.9 -3.9M179.55 289.25l3.9 3.9M179.55 293.15l3.9 -3.9M179.55 291.95l3.9 3.9M179.55 295.85l3.9 -3.9M183.65 265.25l3.9 3.9M183.65 269.15l3.9 -3.9M183.65 267.65l3.9 3.9M183.65 271.55l3.9 -3.9M183.65 270.05l3.9 3.9M183.65 273.95l3.9 -3.9M183.65 271.85l3.9 3.9M183.65 275.75l3.9 -3.9M188.55 273.95l3.9 3.9M188.55 277.85l3.9 -3.9M188.55 279.95l3.9 3.9M188.55 283.85l3.9 -3.9M188.55 287.25l3.9 3.9M188.55 291.15l3.9 -3.9M193.15 273.25l3.9 3.9M193.15 277.15l3.9 -3.9M193.15 276.15l3.9 3.9M193.15 280.05l3.9 -3.9M193.15 279.25l3.9 3.9M193.15 283.15l3.9 -3.9M197.85 287.25l3.9 3.9M197.85 291.15l3.9 -3.9M197.85 294.55l3.9 3.9M197.85 298.45l3.9 -3.9M201.85 283.95l3.9 3.9M201.85 287.85l3.9 -3.9M201.85 286.55l3.9 3.9M201.85 290.45l3.9 -3.9M201.85 289.25l3.9 3.9M201.85 293.15l3.9 -3.9M201.85 291.95l3.9 3.9M201.85 295.85l3.9 -3.9M206.55 285.95l3.9 3.9M206.55 289.85l3.9 -3.9M206.55 289.25l3.9 3.9M206.55 293.15l3.9 -3.9M206.55 291.95l3.9 3.9M206.55 295.85l3.9 -3.9M210.95 294.55l3.9 3.9M210.95 298.45l3.9 -3.9M214.25 294.55l3.9 3.9M214.25 298.45l3.9 -3.9M217.25 294.55l3.9 3.9M217.25 298.45l3.9 -3.9M220.55 294.55l3.9 3.9M220.55 298.45l3.9 -3.9M229.95 295.05l3.9 3.9M229.95 298.95l3.9 -3.9M238.85 294.55l3.9 3.9M238.85 298.45l3.9 -3.9M248.15 295.05l3.9 3.9M248.15 298.95l3.9 -3.9M248.15 269.75l3.9 3.9M248.15 273.65l3.9 -3.9" stroke="#0000ff" stroke-width="1.45" fill="none"/>
<rect x="35" y="200.25" width="255.12" height="115.9" fill="none" stroke="#4d4d4d" stroke-width="1.3"/>
<text x="33.1" y="301.95" text-anchor="end" font-size="11.8">0</text>
<text x="33.1" y="271.58" text-anchor="end" font-size="11.8">50</text>
<text x="33.1" y="241.22" text-anchor="end" font-size="11.8">100</text>
<text x="33.1" y="210.85" text-anchor="end" font-size="11.8">150</text>
<text x="27.2" y="332.95" font-size="11.6">10<tspan dx="-0.6" dy="-5.2" font-size="8.8">1</tspan></text>
<text x="133.5" y="332.95" font-size="11.6">10<tspan dx="-0.6" dy="-5.2" font-size="8.8">2</tspan></text>
<text x="239.8" y="332.95" font-size="11.6">10<tspan dx="-0.6" dy="-5.2" font-size="8.8">3</tspan></text>
<text x="163.56" y="346.75" text-anchor="middle" font-size="11.7">spatial frequeny / (1 / mm)</text>
<text transform="translate(9.8 258.2) rotate(-90)" text-anchor="middle" font-size="11.6">amplitude transmission / %</text>
<text x="164.6" y="196.65" text-anchor="middle" font-size="11.8" font-weight="bold" class="tt">c) CIN-DLW sample evaluation CM 50x</text>
<line x1="452.3" y1="200.25" x2="452.3" y2="316.15" stroke="#eeeeee" stroke-width="1.4"/>
<line x1="558.5" y1="200.25" x2="558.5" y2="316.15" stroke="#eeeeee" stroke-width="1.4"/>
<line x1="346.1" y1="297.65" x2="600.98" y2="297.65" stroke="#eeeeee" stroke-width="1.4"/>
<line x1="346.1" y1="267.28" x2="600.98" y2="267.28" stroke="#eeeeee" stroke-width="1.4"/>
<line x1="346.1" y1="236.92" x2="600.98" y2="236.92" stroke="#eeeeee" stroke-width="1.4"/>
<line x1="346.1" y1="206.55" x2="600.98" y2="206.55" stroke="#eeeeee" stroke-width="1.4"/>
<path d="M378.07 209.95v2.5 M378.07 221.45v2.5 M378.07 232.95v2.5 M378.07 244.45v2.5 M378.07 255.95v2.5 M378.07 267.45v2.5 M378.07 278.95v2.5 M378.07 290.45v2.5 M378.07 301.95v2.5 M378.07 313.45v2.5" stroke="#c6c6c6" stroke-width="1" fill="none"/>
<path d="M396.77 209.95v2.5 M396.77 221.45v2.5 M396.77 232.95v2.5 M396.77 244.45v2.5 M396.77 255.95v2.5 M396.77 267.45v2.5 M396.77 278.95v2.5 M396.77 290.45v2.5 M396.77 301.95v2.5 M396.77 313.45v2.5" stroke="#c6c6c6" stroke-width="1" fill="none"/>
<path d="M410.04 209.95v2.5 M410.04 221.45v2.5 M410.04 232.95v2.5 M410.04 244.45v2.5 M410.04 255.95v2.5 M410.04 267.45v2.5 M410.04 278.95v2.5 M410.04 290.45v2.5 M410.04 301.95v2.5 M410.04 313.45v2.5" stroke="#c6c6c6" stroke-width="1" fill="none"/>
<path d="M420.33 209.95v2.5 M420.33 221.45v2.5 M420.33 232.95v2.5 M420.33 244.45v2.5 M420.33 255.95v2.5 M420.33 267.45v2.5 M420.33 278.95v2.5 M420.33 290.45v2.5 M420.33 301.95v2.5 M420.33 313.45v2.5" stroke="#c6c6c6" stroke-width="1" fill="none"/>
<path d="M428.74 209.95v2.5 M428.74 221.45v2.5 M428.74 232.95v2.5 M428.74 244.45v2.5 M428.74 255.95v2.5 M428.74 267.45v2.5 M428.74 278.95v2.5 M428.74 290.45v2.5 M428.74 301.95v2.5 M428.74 313.45v2.5" stroke="#c6c6c6" stroke-width="1" fill="none"/>
<path d="M435.85 209.95v2.5 M435.85 221.45v2.5 M435.85 232.95v2.5 M435.85 244.45v2.5 M435.85 255.95v2.5 M435.85 267.45v2.5 M435.85 278.95v2.5 M435.85 290.45v2.5 M435.85 301.95v2.5 M435.85 313.45v2.5" stroke="#c6c6c6" stroke-width="1" fill="none"/>
<path d="M442.01 209.95v2.5 M442.01 221.45v2.5 M442.01 232.95v2.5 M442.01 244.45v2.5 M442.01 255.95v2.5 M442.01 267.45v2.5 M442.01 278.95v2.5 M442.01 290.45v2.5 M442.01 301.95v2.5 M442.01 313.45v2.5" stroke="#c6c6c6" stroke-width="1" fill="none"/>
<path d="M447.44 209.95v2.5 M447.44 221.45v2.5 M447.44 232.95v2.5 M447.44 244.45v2.5 M447.44 255.95v2.5 M447.44 267.45v2.5 M447.44 278.95v2.5 M447.44 290.45v2.5 M447.44 301.95v2.5 M447.44 313.45v2.5" stroke="#c6c6c6" stroke-width="1" fill="none"/>
<path d="M484.27 209.95v2.5 M484.27 221.45v2.5 M484.27 232.95v2.5 M484.27 244.45v2.5 M484.27 255.95v2.5 M484.27 267.45v2.5 M484.27 278.95v2.5 M484.27 290.45v2.5 M484.27 301.95v2.5 M484.27 313.45v2.5" stroke="#c6c6c6" stroke-width="1" fill="none"/>
<path d="M502.97 209.95v2.5 M502.97 221.45v2.5 M502.97 232.95v2.5 M502.97 244.45v2.5 M502.97 255.95v2.5 M502.97 267.45v2.5 M502.97 278.95v2.5 M502.97 290.45v2.5 M502.97 301.95v2.5 M502.97 313.45v2.5" stroke="#c6c6c6" stroke-width="1" fill="none"/>
<path d="M516.24 209.95v2.5 M516.24 221.45v2.5 M516.24 232.95v2.5 M516.24 244.45v2.5 M516.24 255.95v2.5 M516.24 267.45v2.5 M516.24 278.95v2.5 M516.24 290.45v2.5 M516.24 301.95v2.5 M516.24 313.45v2.5" stroke="#c6c6c6" stroke-width="1" fill="none"/>
<path d="M526.53 209.95v2.5 M526.53 221.45v2.5 M526.53 232.95v2.5 M526.53 244.45v2.5 M526.53 255.95v2.5 M526.53 267.45v2.5 M526.53 278.95v2.5 M526.53 290.45v2.5 M526.53 301.95v2.5 M526.53 313.45v2.5" stroke="#c6c6c6" stroke-width="1" fill="none"/>
<path d="M534.94 209.95v2.5 M534.94 221.45v2.5 M534.94 232.95v2.5 M534.94 244.45v2.5 M534.94 255.95v2.5 M534.94 267.45v2.5 M534.94 278.95v2.5 M534.94 290.45v2.5 M534.94 301.95v2.5 M534.94 313.45v2.5" stroke="#c6c6c6" stroke-width="1" fill="none"/>
<path d="M542.05 209.95v2.5 M542.05 221.45v2.5 M542.05 232.95v2.5 M542.05 244.45v2.5 M542.05 255.95v2.5 M542.05 267.45v2.5 M542.05 278.95v2.5 M542.05 290.45v2.5 M542.05 301.95v2.5 M542.05 313.45v2.5" stroke="#c6c6c6" stroke-width="1" fill="none"/>
<path d="M548.21 209.95v2.5 M548.21 221.45v2.5 M548.21 232.95v2.5 M548.21 244.45v2.5 M548.21 255.95v2.5 M548.21 267.45v2.5 M548.21 278.95v2.5 M548.21 290.45v2.5 M548.21 301.95v2.5 M548.21 313.45v2.5" stroke="#c6c6c6" stroke-width="1" fill="none"/>
<path d="M553.64 209.95v2.5 M553.64 221.45v2.5 M553.64 232.95v2.5 M553.64 244.45v2.5 M553.64 255.95v2.5 M553.64 267.45v2.5 M553.64 278.95v2.5 M553.64 290.45v2.5 M553.64 301.95v2.5 M553.64 313.45v2.5" stroke="#c6c6c6" stroke-width="1" fill="none"/>
<path d="M590.47 209.95v2.5 M590.47 221.45v2.5 M590.47 232.95v2.5 M590.47 244.45v2.5 M590.47 255.95v2.5 M590.47 267.45v2.5 M590.47 278.95v2.5 M590.47 290.45v2.5 M590.47 301.95v2.5 M590.47 313.45v2.5" stroke="#c6c6c6" stroke-width="1" fill="none"/>
<line x1="349.7" y1="267.28" x2="600.98" y2="267.28" stroke="#151515" stroke-width="2.05" stroke-linecap="round" stroke-dasharray="0 6.2"/>
<line x1="349.7" y1="206.55" x2="600.98" y2="206.55" stroke="#151515" stroke-width="2.05" stroke-linecap="round" stroke-dasharray="0 6.2"/>
<path d="M346.1 297.65h2.5M600.98 297.65h-2.5M346.1 267.28h2.5M600.98 267.28h-2.5M346.1 236.92h2.5M600.98 236.92h-2.5M346.1 206.55h2.5M600.98 206.55h-2.5M346.1 316.15v-2.5M346.1 200.25v2.5M452.3 316.15v-2.5M452.3 200.25v2.5M558.5 316.15v-2.5M558.5 200.25v2.5M378.07 316.15v-1.5M378.07 200.25v1.5M396.77 316.15v-1.5M396.77 200.25v1.5M410.04 316.15v-1.5M410.04 200.25v1.5M420.33 316.15v-1.5M420.33 200.25v1.5M428.74 316.15v-1.5M428.74 200.25v1.5M435.85 316.15v-1.5M435.85 200.25v1.5M442.01 316.15v-1.5M442.01 200.25v1.5M447.44 316.15v-1.5M447.44 200.25v1.5M484.27 316.15v-1.5M484.27 200.25v1.5M502.97 316.15v-1.5M502.97 200.25v1.5M516.24 316.15v-1.5M516.24 200.25v1.5M526.53 316.15v-1.5M526.53 200.25v1.5M534.94 316.15v-1.5M534.94 200.25v1.5M542.05 316.15v-1.5M542.05 200.25v1.5M548.21 316.15v-1.5M548.21 200.25v1.5M553.64 316.15v-1.5M553.64 200.25v1.5M590.47 316.15v-1.5M590.47 200.25v1.5" stroke="#4d4d4d" stroke-width="1" fill="none"/>
<path d="M421.05 239.65l3.9 3.9M421.05 243.55l3.9 -3.9M421.05 241.65l3.9 3.9M421.05 245.55l3.9 -3.9M421.05 244.35l3.9 3.9M421.05 248.25l3.9 -3.9M421.05 246.35l3.9 3.9M421.05 250.25l3.9 -3.9M421.05 248.35l3.9 3.9M421.05 252.25l3.9 -3.9M430.05 243.65l3.9 3.9M430.05 247.55l3.9 -3.9M430.05 245.65l3.9 3.9M430.05 249.55l3.9 -3.9M439.35 244.35l3.9 3.9M439.35 248.25l3.9 -3.9M439.35 246.35l3.9 3.9M439.35 250.25l3.9 -3.9M448.65 243.05l3.9 3.9M448.65 246.95l3.9 -3.9M448.65 245.05l3.9 3.9M448.65 248.95l3.9 -3.9M448.65 246.35l3.9 3.9M448.65 250.25l3.9 -3.9M457.85 243.65l3.9 3.9M457.85 247.55l3.9 -3.9M457.85 245.65l3.9 3.9M457.85 249.55l3.9 -3.9M466.85 247.05l3.9 3.9M466.85 250.95l3.9 -3.9M466.85 249.05l3.9 3.9M466.85 252.95l3.9 -3.9M466.85 251.05l3.9 3.9M466.85 254.95l3.9 -3.9M476.45 253.65l3.9 3.9M476.45 257.55l3.9 -3.9M476.45 255.65l3.9 3.9M476.45 259.55l3.9 -3.9M476.45 257.65l3.9 3.9M476.45 261.55l3.9 -3.9M485.45 260.25l3.9 3.9M485.45 264.15l3.9 -3.9M485.45 261.65l3.9 3.9M485.45 265.55l3.9 -3.9M494.75 266.35l3.9 3.9M494.75 270.25l3.9 -3.9M494.75 268.35l3.9 3.9M494.75 272.25l3.9 -3.9M494.75 269.65l3.9 3.9M494.75 273.55l3.9 -3.9M503.95 273.65l3.9 3.9M503.95 277.55l3.9 -3.9M503.95 275.65l3.9 3.9M503.95 279.55l3.9 -3.9M503.95 277.65l3.9 3.9M503.95 281.55l3.9 -3.9M503.95 280.25l3.9 3.9M503.95 284.15l3.9 -3.9M513.25 277.65l3.9 3.9M513.25 281.55l3.9 -3.9M513.25 279.65l3.9 3.9M513.25 283.55l3.9 -3.9M513.25 281.65l3.9 3.9M513.25 285.55l3.9 -3.9M513.25 284.25l3.9 3.9M513.25 288.15l3.9 -3.9M522.25 284.95l3.9 3.9M522.25 288.85l3.9 -3.9M522.25 286.95l3.9 3.9M522.25 290.85l3.9 -3.9M522.25 288.95l3.9 3.9M522.25 292.85l3.9 -3.9M522.25 292.25l3.9 3.9M522.25 296.15l3.9 -3.9M531.55 290.95l3.9 3.9M531.55 294.85l3.9 -3.9M531.55 292.95l3.9 3.9M531.55 296.85l3.9 -3.9M531.55 294.95l3.9 3.9M531.55 298.85l3.9 -3.9M540.55 291.55l3.9 3.9M540.55 295.45l3.9 -3.9M540.55 293.55l3.9 3.9M540.55 297.45l3.9 -3.9M540.55 295.55l3.9 3.9M540.55 299.45l3.9 -3.9M549.85 293.55l3.9 3.9M549.85 297.45l3.9 -3.9M549.85 295.35l3.9 3.9M549.85 299.25l3.9 -3.9M559.05 290.95l3.9 3.9M559.05 294.85l3.9 -3.9M559.05 292.95l3.9 3.9M559.05 296.85l3.9 -3.9M559.05 294.95l3.9 3.9M559.05 298.85l3.9 -3.9" stroke="#ff0000" stroke-width="1.45" fill="none"/>
<rect x="346.1" y="200.25" width="254.88" height="115.9" fill="none" stroke="#4d4d4d" stroke-width="1.3"/>
<text x="344.2" y="301.95" text-anchor="end" font-size="11.8">0</text>
<text x="344.2" y="271.58" text-anchor="end" font-size="11.8">50</text>
<text x="344.2" y="241.22" text-anchor="end" font-size="11.8">100</text>
<text x="344.2" y="210.85" text-anchor="end" font-size="11.8">150</text>
<text x="338.3" y="332.95" font-size="11.6">10<tspan dx="-0.6" dy="-5.2" font-size="8.8">1</tspan></text>
<text x="444.5" y="332.95" font-size="11.6">10<tspan dx="-0.6" dy="-5.2" font-size="8.8">2</tspan></text>
<text x="550.7" y="332.95" font-size="11.6">10<tspan dx="-0.6" dy="-5.2" font-size="8.8">3</tspan></text>
<text x="474.54" y="346.75" text-anchor="middle" font-size="11.7">spatial frequeny / (1 / mm)</text>
<text transform="translate(320.9 258.2) rotate(-90)" text-anchor="middle" font-size="11.6">amplitude transmission / %</text>
<text x="477.3" y="196.65" text-anchor="middle" font-size="11.8" font-weight="bold" class="tt">d) CIN-DLW sample evaluation WLI 50x</text>
<line x1="141.3" y1="387.2" x2="141.3" y2="503.1" stroke="#eeeeee" stroke-width="1.4"/>
<line x1="247.6" y1="387.2" x2="247.6" y2="503.1" stroke="#eeeeee" stroke-width="1.4"/>
<line x1="35" y1="484.6" x2="290.12" y2="484.6" stroke="#eeeeee" stroke-width="1.4"/>
<line x1="35" y1="454.24" x2="290.12" y2="454.24" stroke="#eeeeee" stroke-width="1.4"/>
<line x1="35" y1="423.87" x2="290.12" y2="423.87" stroke="#eeeeee" stroke-width="1.4"/>
<line x1="35" y1="393.5" x2="290.12" y2="393.5" stroke="#eeeeee" stroke-width="1.4"/>
<path d="M67 396.9v2.5 M67 408.4v2.5 M67 419.9v2.5 M67 431.4v2.5 M67 442.9v2.5 M67 454.4v2.5 M67 465.9v2.5 M67 477.4v2.5 M67 488.9v2.5 M67 500.4v2.5" stroke="#c6c6c6" stroke-width="1" fill="none"/>
<path d="M85.72 396.9v2.5 M85.72 408.4v2.5 M85.72 419.9v2.5 M85.72 431.4v2.5 M85.72 442.9v2.5 M85.72 454.4v2.5 M85.72 465.9v2.5 M85.72 477.4v2.5 M85.72 488.9v2.5 M85.72 500.4v2.5" stroke="#c6c6c6" stroke-width="1" fill="none"/>
<path d="M99 396.9v2.5 M99 408.4v2.5 M99 419.9v2.5 M99 431.4v2.5 M99 442.9v2.5 M99 454.4v2.5 M99 465.9v2.5 M99 477.4v2.5 M99 488.9v2.5 M99 500.4v2.5" stroke="#c6c6c6" stroke-width="1" fill="none"/>
<path d="M109.3 396.9v2.5 M109.3 408.4v2.5 M109.3 419.9v2.5 M109.3 431.4v2.5 M109.3 442.9v2.5 M109.3 454.4v2.5 M109.3 465.9v2.5 M109.3 477.4v2.5 M109.3 488.9v2.5 M109.3 500.4v2.5" stroke="#c6c6c6" stroke-width="1" fill="none"/>
<path d="M117.72 396.9v2.5 M117.72 408.4v2.5 M117.72 419.9v2.5 M117.72 431.4v2.5 M117.72 442.9v2.5 M117.72 454.4v2.5 M117.72 465.9v2.5 M117.72 477.4v2.5 M117.72 488.9v2.5 M117.72 500.4v2.5" stroke="#c6c6c6" stroke-width="1" fill="none"/>
<path d="M124.83 396.9v2.5 M124.83 408.4v2.5 M124.83 419.9v2.5 M124.83 431.4v2.5 M124.83 442.9v2.5 M124.83 454.4v2.5 M124.83 465.9v2.5 M124.83 477.4v2.5 M124.83 488.9v2.5 M124.83 500.4v2.5" stroke="#c6c6c6" stroke-width="1" fill="none"/>
<path d="M131 396.9v2.5 M131 408.4v2.5 M131 419.9v2.5 M131 431.4v2.5 M131 442.9v2.5 M131 454.4v2.5 M131 465.9v2.5 M131 477.4v2.5 M131 488.9v2.5 M131 500.4v2.5" stroke="#c6c6c6" stroke-width="1" fill="none"/>
<path d="M136.44 396.9v2.5 M136.44 408.4v2.5 M136.44 419.9v2.5 M136.44 431.4v2.5 M136.44 442.9v2.5 M136.44 454.4v2.5 M136.44 465.9v2.5 M136.44 477.4v2.5 M136.44 488.9v2.5 M136.44 500.4v2.5" stroke="#c6c6c6" stroke-width="1" fill="none"/>
<path d="M173.3 396.9v2.5 M173.3 408.4v2.5 M173.3 419.9v2.5 M173.3 431.4v2.5 M173.3 442.9v2.5 M173.3 454.4v2.5 M173.3 465.9v2.5 M173.3 477.4v2.5 M173.3 488.9v2.5 M173.3 500.4v2.5" stroke="#c6c6c6" stroke-width="1" fill="none"/>
<path d="M192.02 396.9v2.5 M192.02 408.4v2.5 M192.02 419.9v2.5 M192.02 431.4v2.5 M192.02 442.9v2.5 M192.02 454.4v2.5 M192.02 465.9v2.5 M192.02 477.4v2.5 M192.02 488.9v2.5 M192.02 500.4v2.5" stroke="#c6c6c6" stroke-width="1" fill="none"/>
<path d="M205.3 396.9v2.5 M205.3 408.4v2.5 M205.3 419.9v2.5 M205.3 431.4v2.5 M205.3 442.9v2.5 M205.3 454.4v2.5 M205.3 465.9v2.5 M205.3 477.4v2.5 M205.3 488.9v2.5 M205.3 500.4v2.5" stroke="#c6c6c6" stroke-width="1" fill="none"/>
<path d="M215.6 396.9v2.5 M215.6 408.4v2.5 M215.6 419.9v2.5 M215.6 431.4v2.5 M215.6 442.9v2.5 M215.6 454.4v2.5 M215.6 465.9v2.5 M215.6 477.4v2.5 M215.6 488.9v2.5 M215.6 500.4v2.5" stroke="#c6c6c6" stroke-width="1" fill="none"/>
<path d="M224.02 396.9v2.5 M224.02 408.4v2.5 M224.02 419.9v2.5 M224.02 431.4v2.5 M224.02 442.9v2.5 M224.02 454.4v2.5 M224.02 465.9v2.5 M224.02 477.4v2.5 M224.02 488.9v2.5 M224.02 500.4v2.5" stroke="#c6c6c6" stroke-width="1" fill="none"/>
<path d="M231.13 396.9v2.5 M231.13 408.4v2.5 M231.13 419.9v2.5 M231.13 431.4v2.5 M231.13 442.9v2.5 M231.13 454.4v2.5 M231.13 465.9v2.5 M231.13 477.4v2.5 M231.13 488.9v2.5 M231.13 500.4v2.5" stroke="#c6c6c6" stroke-width="1" fill="none"/>
<path d="M237.3 396.9v2.5 M237.3 408.4v2.5 M237.3 419.9v2.5 M237.3 431.4v2.5 M237.3 442.9v2.5 M237.3 454.4v2.5 M237.3 465.9v2.5 M237.3 477.4v2.5 M237.3 488.9v2.5 M237.3 500.4v2.5" stroke="#c6c6c6" stroke-width="1" fill="none"/>
<path d="M242.74 396.9v2.5 M242.74 408.4v2.5 M242.74 419.9v2.5 M242.74 431.4v2.5 M242.74 442.9v2.5 M242.74 454.4v2.5 M242.74 465.9v2.5 M242.74 477.4v2.5 M242.74 488.9v2.5 M242.74 500.4v2.5" stroke="#c6c6c6" stroke-width="1" fill="none"/>
<path d="M279.6 396.9v2.5 M279.6 408.4v2.5 M279.6 419.9v2.5 M279.6 431.4v2.5 M279.6 442.9v2.5 M279.6 454.4v2.5 M279.6 465.9v2.5 M279.6 477.4v2.5 M279.6 488.9v2.5 M279.6 500.4v2.5" stroke="#c6c6c6" stroke-width="1" fill="none"/>
<line x1="37.2" y1="454.24" x2="290.12" y2="454.24" stroke="#151515" stroke-width="2.05" stroke-linecap="round" stroke-dasharray="0 6.2"/>
<line x1="37.2" y1="393.5" x2="290.12" y2="393.5" stroke="#151515" stroke-width="2.05" stroke-linecap="round" stroke-dasharray="0 6.2"/>
<path d="M35 484.6h2.5M290.12 484.6h-2.5M35 454.24h2.5M290.12 454.24h-2.5M35 423.87h2.5M290.12 423.87h-2.5M35 393.5h2.5M290.12 393.5h-2.5M35 503.1v-2.5M35 387.2v2.5M141.3 503.1v-2.5M141.3 387.2v2.5M247.6 503.1v-2.5M247.6 387.2v2.5M67 503.1v-1.5M67 387.2v1.5M85.72 503.1v-1.5M85.72 387.2v1.5M99 503.1v-1.5M99 387.2v1.5M109.3 503.1v-1.5M109.3 387.2v1.5M117.72 503.1v-1.5M117.72 387.2v1.5M124.83 503.1v-1.5M124.83 387.2v1.5M131 503.1v-1.5M131 387.2v1.5M136.44 503.1v-1.5M136.44 387.2v1.5M173.3 503.1v-1.5M173.3 387.2v1.5M192.02 503.1v-1.5M192.02 387.2v1.5M205.3 503.1v-1.5M205.3 387.2v1.5M215.6 503.1v-1.5M215.6 387.2v1.5M224.02 503.1v-1.5M224.02 387.2v1.5M231.13 503.1v-1.5M231.13 387.2v1.5M237.3 503.1v-1.5M237.3 387.2v1.5M242.74 503.1v-1.5M242.74 387.2v1.5M279.6 503.1v-1.5M279.6 387.2v1.5" stroke="#4d4d4d" stroke-width="1" fill="none"/>
<path d="M142.05 431.35l3.9 3.9M142.05 435.25l3.9 -3.9M151.35 430.65l3.9 3.9M151.35 434.55l3.9 -3.9M151.35 432.65l3.9 3.9M151.35 436.55l3.9 -3.9M160.65 430.95l3.9 3.9M160.65 434.85l3.9 -3.9M160.65 433.25l3.9 3.9M160.65 437.15l3.9 -3.9M169.65 431.95l3.9 3.9M169.65 435.85l3.9 -3.9M169.65 433.95l3.9 3.9M169.65 437.85l3.9 -3.9M178.95 435.95l3.9 3.9M178.95 439.85l3.9 -3.9M188.15 441.05l3.9 3.9M188.15 444.95l3.9 -3.9M188.15 443.25l3.9 3.9M188.15 447.15l3.9 -3.9M197.15 449.25l3.9 3.9M197.15 453.15l3.9 -3.9M197.15 451.95l3.9 3.9M197.15 455.85l3.9 -3.9M197.15 454.55l3.9 3.9M197.15 458.45l3.9 -3.9M206.55 459.55l3.9 3.9M206.55 463.45l3.9 -3.9M206.55 462.35l3.9 3.9M206.55 466.25l3.9 -3.9M215.65 470.45l3.9 3.9M215.65 474.35l3.9 -3.9M215.65 472.75l3.9 3.9M215.65 476.65l3.9 -3.9M224.95 478.65l3.9 3.9M224.95 482.55l3.9 -3.9M224.95 480.95l3.9 3.9M224.95 484.85l3.9 -3.9M234.25 480.95l3.9 3.9M234.25 484.85l3.9 -3.9M243.65 481.65l3.9 3.9M243.65 485.55l3.9 -3.9M252.65 482.45l3.9 3.9M252.65 486.35l3.9 -3.9M261.85 480.95l3.9 3.9M261.85 484.85l3.9 -3.9M261.85 482.45l3.9 3.9M261.85 486.35l3.9 -3.9M270.95 478.65l3.9 3.9M270.95 482.55l3.9 -3.9M270.95 481.65l3.9 3.9M270.95 485.55l3.9 -3.9M280.25 482.15l3.9 3.9M280.25 486.05l3.9 -3.9" stroke="#0000ff" stroke-width="1.45" fill="none"/>
<rect x="35" y="387.2" width="255.12" height="115.9" fill="none" stroke="#4d4d4d" stroke-width="1.3"/>
<text x="33.1" y="488.9" text-anchor="end" font-size="11.8">0</text>
<text x="33.1" y="458.54" text-anchor="end" font-size="11.8">50</text>
<text x="33.1" y="428.17" text-anchor="end" font-size="11.8">100</text>
<text x="33.1" y="397.81" text-anchor="end" font-size="11.8">150</text>
<text x="27.2" y="519.9" font-size="11.6">10<tspan dx="-0.6" dy="-5.2" font-size="8.8">1</tspan></text>
<text x="133.5" y="519.9" font-size="11.6">10<tspan dx="-0.6" dy="-5.2" font-size="8.8">2</tspan></text>
<text x="239.8" y="519.9" font-size="11.6">10<tspan dx="-0.6" dy="-5.2" font-size="8.8">3</tspan></text>
<text x="163.56" y="533.7" text-anchor="middle" font-size="11.7">spatial frequeny / (1 / mm)</text>
<text transform="translate(9.8 445.15) rotate(-90)" text-anchor="middle" font-size="11.6">amplitude transmission / %</text>
<text x="164.6" y="383.6" text-anchor="middle" font-size="11.8" font-weight="bold" class="tt">e) CIN-DLW sample evaluation CM 100x</text>
<line x1="452.3" y1="387.2" x2="452.3" y2="503.1" stroke="#eeeeee" stroke-width="1.4"/>
<line x1="558.5" y1="387.2" x2="558.5" y2="503.1" stroke="#eeeeee" stroke-width="1.4"/>
<line x1="346.1" y1="484.6" x2="600.98" y2="484.6" stroke="#eeeeee" stroke-width="1.4"/>
<line x1="346.1" y1="454.24" x2="600.98" y2="454.24" stroke="#eeeeee" stroke-width="1.4"/>
<line x1="346.1" y1="423.87" x2="600.98" y2="423.87" stroke="#eeeeee" stroke-width="1.4"/>
<line x1="346.1" y1="393.5" x2="600.98" y2="393.5" stroke="#eeeeee" stroke-width="1.4"/>
<path d="M378.07 396.9v2.5 M378.07 408.4v2.5 M378.07 419.9v2.5 M378.07 431.4v2.5 M378.07 442.9v2.5 M378.07 454.4v2.5 M378.07 465.9v2.5 M378.07 477.4v2.5 M378.07 488.9v2.5 M378.07 500.4v2.5" stroke="#c6c6c6" stroke-width="1" fill="none"/>
<path d="M396.77 396.9v2.5 M396.77 408.4v2.5 M396.77 419.9v2.5 M396.77 431.4v2.5 M396.77 442.9v2.5 M396.77 454.4v2.5 M396.77 465.9v2.5 M396.77 477.4v2.5 M396.77 488.9v2.5 M396.77 500.4v2.5" stroke="#c6c6c6" stroke-width="1" fill="none"/>
<path d="M410.04 396.9v2.5 M410.04 408.4v2.5 M410.04 419.9v2.5 M410.04 431.4v2.5 M410.04 442.9v2.5 M410.04 454.4v2.5 M410.04 465.9v2.5 M410.04 477.4v2.5 M410.04 488.9v2.5 M410.04 500.4v2.5" stroke="#c6c6c6" stroke-width="1" fill="none"/>
<path d="M420.33 396.9v2.5 M420.33 408.4v2.5 M420.33 419.9v2.5 M420.33 431.4v2.5 M420.33 442.9v2.5 M420.33 454.4v2.5 M420.33 465.9v2.5 M420.33 477.4v2.5 M420.33 488.9v2.5 M420.33 500.4v2.5" stroke="#c6c6c6" stroke-width="1" fill="none"/>
<path d="M428.74 396.9v2.5 M428.74 408.4v2.5 M428.74 419.9v2.5 M428.74 431.4v2.5 M428.74 442.9v2.5 M428.74 454.4v2.5 M428.74 465.9v2.5 M428.74 477.4v2.5 M428.74 488.9v2.5 M428.74 500.4v2.5" stroke="#c6c6c6" stroke-width="1" fill="none"/>
<path d="M435.85 396.9v2.5 M435.85 408.4v2.5 M435.85 419.9v2.5 M435.85 431.4v2.5 M435.85 442.9v2.5 M435.85 454.4v2.5 M435.85 465.9v2.5 M435.85 477.4v2.5 M435.85 488.9v2.5 M435.85 500.4v2.5" stroke="#c6c6c6" stroke-width="1" fill="none"/>
<path d="M442.01 396.9v2.5 M442.01 408.4v2.5 M442.01 419.9v2.5 M442.01 431.4v2.5 M442.01 442.9v2.5 M442.01 454.4v2.5 M442.01 465.9v2.5 M442.01 477.4v2.5 M442.01 488.9v2.5 M442.01 500.4v2.5" stroke="#c6c6c6" stroke-width="1" fill="none"/>
<path d="M447.44 396.9v2.5 M447.44 408.4v2.5 M447.44 419.9v2.5 M447.44 431.4v2.5 M447.44 442.9v2.5 M447.44 454.4v2.5 M447.44 465.9v2.5 M447.44 477.4v2.5 M447.44 488.9v2.5 M447.44 500.4v2.5" stroke="#c6c6c6" stroke-width="1" fill="none"/>
<path d="M484.27 396.9v2.5 M484.27 408.4v2.5 M484.27 419.9v2.5 M484.27 431.4v2.5 M484.27 442.9v2.5 M484.27 454.4v2.5 M484.27 465.9v2.5 M484.27 477.4v2.5 M484.27 488.9v2.5 M484.27 500.4v2.5" stroke="#c6c6c6" stroke-width="1" fill="none"/>
<path d="M502.97 396.9v2.5 M502.97 408.4v2.5 M502.97 419.9v2.5 M502.97 431.4v2.5 M502.97 442.9v2.5 M502.97 454.4v2.5 M502.97 465.9v2.5 M502.97 477.4v2.5 M502.97 488.9v2.5 M502.97 500.4v2.5" stroke="#c6c6c6" stroke-width="1" fill="none"/>
<path d="M516.24 396.9v2.5 M516.24 408.4v2.5 M516.24 419.9v2.5 M516.24 431.4v2.5 M516.24 442.9v2.5 M516.24 454.4v2.5 M516.24 465.9v2.5 M516.24 477.4v2.5 M516.24 488.9v2.5 M516.24 500.4v2.5" stroke="#c6c6c6" stroke-width="1" fill="none"/>
<path d="M526.53 396.9v2.5 M526.53 408.4v2.5 M526.53 419.9v2.5 M526.53 431.4v2.5 M526.53 442.9v2.5 M526.53 454.4v2.5 M526.53 465.9v2.5 M526.53 477.4v2.5 M526.53 488.9v2.5 M526.53 500.4v2.5" stroke="#c6c6c6" stroke-width="1" fill="none"/>
<path d="M534.94 396.9v2.5 M534.94 408.4v2.5 M534.94 419.9v2.5 M534.94 431.4v2.5 M534.94 442.9v2.5 M534.94 454.4v2.5 M534.94 465.9v2.5 M534.94 477.4v2.5 M534.94 488.9v2.5 M534.94 500.4v2.5" stroke="#c6c6c6" stroke-width="1" fill="none"/>
<path d="M542.05 396.9v2.5 M542.05 408.4v2.5 M542.05 419.9v2.5 M542.05 431.4v2.5 M542.05 442.9v2.5 M542.05 454.4v2.5 M542.05 465.9v2.5 M542.05 477.4v2.5 M542.05 488.9v2.5 M542.05 500.4v2.5" stroke="#c6c6c6" stroke-width="1" fill="none"/>
<path d="M548.21 396.9v2.5 M548.21 408.4v2.5 M548.21 419.9v2.5 M548.21 431.4v2.5 M548.21 442.9v2.5 M548.21 454.4v2.5 M548.21 465.9v2.5 M548.21 477.4v2.5 M548.21 488.9v2.5 M548.21 500.4v2.5" stroke="#c6c6c6" stroke-width="1" fill="none"/>
<path d="M553.64 396.9v2.5 M553.64 408.4v2.5 M553.64 419.9v2.5 M553.64 431.4v2.5 M553.64 442.9v2.5 M553.64 454.4v2.5 M553.64 465.9v2.5 M553.64 477.4v2.5 M553.64 488.9v2.5 M553.64 500.4v2.5" stroke="#c6c6c6" stroke-width="1" fill="none"/>
<path d="M590.47 396.9v2.5 M590.47 408.4v2.5 M590.47 419.9v2.5 M590.47 431.4v2.5 M590.47 442.9v2.5 M590.47 454.4v2.5 M590.47 465.9v2.5 M590.47 477.4v2.5 M590.47 488.9v2.5 M590.47 500.4v2.5" stroke="#c6c6c6" stroke-width="1" fill="none"/>
<line x1="350.3" y1="454.24" x2="600.98" y2="454.24" stroke="#151515" stroke-width="2.05" stroke-linecap="round" stroke-dasharray="0 6.2"/>
<line x1="350.3" y1="393.5" x2="600.98" y2="393.5" stroke="#151515" stroke-width="2.05" stroke-linecap="round" stroke-dasharray="0 6.2"/>
<path d="M346.1 484.6h2.5M600.98 484.6h-2.5M346.1 454.24h2.5M600.98 454.24h-2.5M346.1 423.87h2.5M600.98 423.87h-2.5M346.1 393.5h2.5M600.98 393.5h-2.5M346.1 503.1v-2.5M346.1 387.2v2.5M452.3 503.1v-2.5M452.3 387.2v2.5M558.5 503.1v-2.5M558.5 387.2v2.5M378.07 503.1v-1.5M378.07 387.2v1.5M396.77 503.1v-1.5M396.77 387.2v1.5M410.04 503.1v-1.5M410.04 387.2v1.5M420.33 503.1v-1.5M420.33 387.2v1.5M428.74 503.1v-1.5M428.74 387.2v1.5M435.85 503.1v-1.5M435.85 387.2v1.5M442.01 503.1v-1.5M442.01 387.2v1.5M447.44 503.1v-1.5M447.44 387.2v1.5M484.27 503.1v-1.5M484.27 387.2v1.5M502.97 503.1v-1.5M502.97 387.2v1.5M516.24 503.1v-1.5M516.24 387.2v1.5M526.53 503.1v-1.5M526.53 387.2v1.5M534.94 503.1v-1.5M534.94 387.2v1.5M542.05 503.1v-1.5M542.05 387.2v1.5M548.21 503.1v-1.5M548.21 387.2v1.5M553.64 503.1v-1.5M553.64 387.2v1.5M590.47 503.1v-1.5M590.47 387.2v1.5" stroke="#4d4d4d" stroke-width="1" fill="none"/>
<path d="M453.05 425.65l3.9 3.9M453.05 429.55l3.9 -3.9M453.05 429.05l3.9 3.9M453.05 432.95l3.9 -3.9M453.05 430.95l3.9 3.9M453.05 434.85l3.9 -3.9M453.05 432.95l3.9 3.9M453.05 436.85l3.9 -3.9M462.35 430.35l3.9 3.9M462.35 434.25l3.9 -3.9M462.35 432.95l3.9 3.9M462.35 436.85l3.9 -3.9M471.35 428.35l3.9 3.9M471.35 432.25l3.9 -3.9M471.35 430.95l3.9 3.9M471.35 434.85l3.9 -3.9M480.65 431.65l3.9 3.9M480.65 435.55l3.9 -3.9M480.65 434.35l3.9 3.9M480.65 438.25l3.9 -3.9M489.85 434.35l3.9 3.9M489.85 438.25l3.9 -3.9M489.85 436.95l3.9 3.9M489.85 440.85l3.9 -3.9M499.15 440.95l3.9 3.9M499.15 444.85l3.9 -3.9M499.15 443.65l3.9 3.9M499.15 447.55l3.9 -3.9M499.15 446.05l3.9 3.9M499.15 449.95l3.9 -3.9M508.45 449.55l3.9 3.9M508.45 453.45l3.9 -3.9M508.45 452.25l3.9 3.9M508.45 456.15l3.9 -3.9M508.45 454.25l3.9 3.9M508.45 458.15l3.9 -3.9M517.75 458.85l3.9 3.9M517.75 462.75l3.9 -3.9M517.75 462.05l3.9 3.9M517.75 465.95l3.9 -3.9M517.75 465.45l3.9 3.9M517.75 469.35l3.9 -3.9M526.75 467.55l3.9 3.9M526.75 471.45l3.9 -3.9M526.75 470.35l3.9 3.9M526.75 474.25l3.9 -3.9M526.75 479.05l3.9 3.9M526.75 482.95l3.9 -3.9M535.75 472.55l3.9 3.9M535.75 476.45l3.9 -3.9M535.75 476.15l3.9 3.9M535.75 480.05l3.9 -3.9M535.75 479.05l3.9 3.9M535.75 482.95l3.9 -3.9M535.75 481.95l3.9 3.9M535.75 485.85l3.9 -3.9M545.15 474.05l3.9 3.9M545.15 477.95l3.9 -3.9M545.15 477.65l3.9 3.9M545.15 481.55l3.9 -3.9M545.15 480.55l3.9 3.9M545.15 484.45l3.9 -3.9M545.15 482.65l3.9 3.9M545.15 486.55l3.9 -3.9M554.25 476.15l3.9 3.9M554.25 480.05l3.9 -3.9M554.25 479.05l3.9 3.9M554.25 482.95l3.9 -3.9M554.25 481.95l3.9 3.9M554.25 485.85l3.9 -3.9M563.65 477.65l3.9 3.9M563.65 481.55l3.9 -3.9M563.65 479.05l3.9 3.9M563.65 482.95l3.9 -3.9M572.75 480.55l3.9 3.9M572.75 484.45l3.9 -3.9M572.75 482.65l3.9 3.9M572.75 486.55l3.9 -3.9M582.15 477.65l3.9 3.9M582.15 481.55l3.9 -3.9M582.15 480.55l3.9 3.9M582.15 484.45l3.9 -3.9M582.15 482.65l3.9 3.9M582.15 486.55l3.9 -3.9M591.05 480.55l3.9 3.9M591.05 484.45l3.9 -3.9M591.05 481.95l3.9 3.9M591.05 485.85l3.9 -3.9" stroke="#ff0000" stroke-width="1.45" fill="none"/>
<rect x="346.1" y="387.2" width="254.88" height="115.9" fill="none" stroke="#4d4d4d" stroke-width="1.3"/>
<text x="344.2" y="488.9" text-anchor="end" font-size="11.8">0</text>
<text x="344.2" y="458.54" text-anchor="end" font-size="11.8">50</text>
<text x="344.2" y="428.17" text-anchor="end" font-size="11.8">100</text>
<text x="344.2" y="397.81" text-anchor="end" font-size="11.8">150</text>
<text x="338.3" y="519.9" font-size="11.6">10<tspan dx="-0.6" dy="-5.2" font-size="8.8">1</tspan></text>
<text x="444.5" y="519.9" font-size="11.6">10<tspan dx="-0.6" dy="-5.2" font-size="8.8">2</tspan></text>
<text x="550.7" y="519.9" font-size="11.6">10<tspan dx="-0.6" dy="-5.2" font-size="8.8">3</tspan></text>
<text x="474.54" y="533.7" text-anchor="middle" font-size="11.7">spatial frequeny / (1 / mm)</text>
<text transform="translate(320.9 445.15) rotate(-90)" text-anchor="middle" font-size="11.6">amplitude transmission / %</text>
<text x="477.3" y="383.6" text-anchor="middle" font-size="11.8" font-weight="bold" class="tt">f) CIN-DLW sample evaluation WLI 100x</text>
<rect x="190" y="38.5" width="97.5" height="24" fill="#fff"/>
<text x="239.2" y="48.2" text-anchor="middle" font-size="11.7">small-scale fidelity</text>
<text x="239.2" y="60.6" text-anchor="middle" font-size="11.7">limit thresholds</text>
<path d="M259.5 36.6V27M259.5 63V73" stroke="#262626" stroke-width="1.15"/>
<path d="M256.7 28L259.5 22L262.3 28Z M256.7 72L259.5 78.2L262.3 72Z" fill="#1a1a1a"/>
<line x1="56.4" y1="574.2" x2="56.4" y2="679.3" stroke="#eeeeee" stroke-width="1.4"/>
<line x1="98.89" y1="574.2" x2="98.89" y2="679.3" stroke="#eeeeee" stroke-width="1.4"/>
<line x1="141.38" y1="574.2" x2="141.38" y2="679.3" stroke="#eeeeee" stroke-width="1.4"/>
<line x1="183.87" y1="574.2" x2="183.87" y2="679.3" stroke="#eeeeee" stroke-width="1.4"/>
<line x1="226.36" y1="574.2" x2="226.36" y2="679.3" stroke="#eeeeee" stroke-width="1.4"/>
<line x1="268.85" y1="574.2" x2="268.85" y2="679.3" stroke="#eeeeee" stroke-width="1.4"/>
<line x1="35.15" y1="638.88" x2="290.1" y2="638.88" stroke="#eeeeee" stroke-width="1.4"/>
<line x1="35.15" y1="598.45" x2="290.1" y2="598.45" stroke="#eeeeee" stroke-width="1.4"/>
<path d="M35.15 679.3h2.5M35.15 638.88h2.5M35.15 598.45h2.5M290.1 598.45h-2.5M290.1 638.88h-2.5M290.1 652.35h-2.5M290.1 659.09h-2.5M290.1 663.13h-2.5M56.4 679.3v-2.5M56.4 574.2v2.5M98.89 679.3v-2.5M98.89 574.2v2.5M141.38 679.3v-2.5M141.38 574.2v2.5M183.87 679.3v-2.5M183.87 574.2v2.5M226.36 679.3v-2.5M226.36 574.2v2.5M268.85 679.3v-2.5M268.85 574.2v2.5" stroke="#4d4d4d" stroke-width="1" fill="none"/>
<path d="M56.4 583.5V610.58" stroke="#0000ff" stroke-width="1.3" fill="none"/>
<circle cx="56.4" cy="597.24" r="2.2" fill="none" stroke="#0000ff" stroke-width="1.3"/>
<path d="M98.89 625.94V643.73" stroke="#0000ff" stroke-width="1.3" fill="none"/>
<circle cx="98.89" cy="635.24" r="2.2" fill="none" stroke="#0000ff" stroke-width="1.3"/>
<path d="M141.38 655.85V656.66" stroke="#0000ff" stroke-width="1.3" fill="none"/>
<circle cx="141.38" cy="656.26" r="2.0" fill="#4f5fff" stroke="#0000ff" stroke-width="1.2"/>
<path d="M183.87 595.22V613.01M181.87 595.22h4M181.87 613.01h4" stroke="#ff0000" stroke-width="1.3" fill="none"/>
<circle cx="183.87" cy="604.11" r="2.2" fill="none" stroke="#ff0000" stroke-width="1.3"/>
<path d="M226.36 641.3V642.11" stroke="#ff0000" stroke-width="1.3" fill="none"/>
<circle cx="226.36" cy="641.71" r="2.0" fill="#ff5050" stroke="#ff0000" stroke-width="1.2"/>
<path d="M268.85 655.85V656.66" stroke="#ff0000" stroke-width="1.3" fill="none"/>
<circle cx="268.85" cy="656.26" r="2.0" fill="#ff5050" stroke="#ff0000" stroke-width="1.2"/>
<rect x="35.15" y="574.2" width="254.95" height="105.1" fill="none" stroke="#4d4d4d" stroke-width="1.3"/>
<text x="33.25" y="683.6" text-anchor="end" font-size="11.8">0</text>
<text x="33.25" y="643.18" text-anchor="end" font-size="11.8">5</text>
<text x="33.25" y="602.75" text-anchor="end" font-size="11.8">10</text>
<text x="292.3" y="602.55" font-size="11.8">100</text>
<text x="292.3" y="642.98" font-size="11.8">200</text>
<text x="292.3" y="656.45" font-size="11.8">300</text>
<text x="292.3" y="667.23" font-size="11.8">500</text>
<text transform="translate(66 689.7) rotate(-45)" text-anchor="end" font-size="12">CM 20x</text>
<text transform="translate(108.49 689.7) rotate(-45)" text-anchor="end" font-size="12">CM 50x</text>
<text transform="translate(150.98 689.7) rotate(-45)" text-anchor="end" font-size="12">CM 100x</text>
<text transform="translate(193.47 689.7) rotate(-45)" text-anchor="end" font-size="12">WLI 20x</text>
<text transform="translate(235.96 689.7) rotate(-45)" text-anchor="end" font-size="12">WLI 50x</text>
<text transform="translate(278.45 689.7) rotate(-45)" text-anchor="end" font-size="12">WLI 100x</text>
<text transform="translate(10 628) rotate(-90)" text-anchor="middle" font-size="11.25">small scale fidelity limit / &#956;m</text>
<text transform="translate(321 630.25) rotate(-90)" text-anchor="middle" font-size="11.7">spatial frequency / (1 / mm)</text>
<text x="165.05" y="569.8" text-anchor="middle" font-size="11.8" font-weight="bold" class="tt">g) Small scale fidelity limit evaluation</text>
</g>
</svg>
</body></html>
